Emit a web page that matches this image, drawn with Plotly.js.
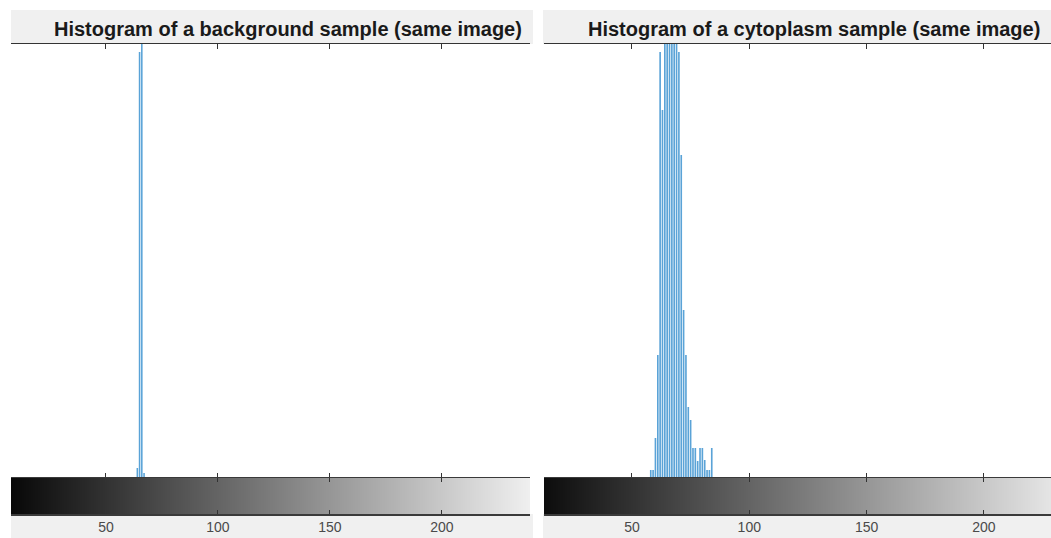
<!DOCTYPE html>
<html><head><meta charset="utf-8">
<script src="https://cdn.plot.ly/plotly-3.0.1.min.js"></script>
<style>html,body{margin:0;padding:0;background:#fff;}#chart{width:1051px;height:538px;}</style>
</head><body><div id="chart"></div>
<script>
// Background sample histogram (intensity -> count)
const bgIntensity = [64, 65, 66, 67];
const bgCounts = [10, 426, 700, 5];

// Cytoplasm sample histogram (intensity -> count)
const cytoIntensity = [58, 59, 60, 61, 62, 63, 64, 65, 66, 67, 68, 69, 70, 71, 72, 73, 74, 75, 76, 77, 78, 79, 80, 81, 82, 83, 84];
const cytoCounts = [8, 8, 40, 123, 426, 368, 520, 610, 580, 650, 560, 470, 426, 323, 168, 123, 71, 58, 30, 30, 17, 30, 30, 18, 8, 8, 30];

// Axis ticks
const tickValues = [50, 100, 150, 200];
const tickLabels = ['50', '100', '150', '200'];

// Grayscale colormap levels for the intensity bar
const grayLevels = Array.from({length: 256}, (_, i) => i);

const titles = ['Histogram of a background sample (same image)', 'Histogram of a cytoplasm sample (same image)'];

const W = 1051, H = 538;
const px = v => v / W;
const py = v => (H - v) / H;

const barColor = '#5aa3d7';
const lineColor = '#333333';

const traces = [
  {type: 'bar', x: bgIntensity, y: bgCounts, xaxis: 'x', yaxis: 'y',
   marker: {color: barColor, line: {width: 0}}, hoverinfo: 'x+y'},
  {type: 'heatmap', x: grayLevels, y: [0], z: [grayLevels], xaxis: 'x2', yaxis: 'y2',
   colorscale: [[0, '#000000'], [1, '#ffffff']], zmin: 0, zmax: 255, showscale: false, hoverinfo: 'x'},
  {type: 'bar', x: cytoIntensity, y: cytoCounts, xaxis: 'x3', yaxis: 'y3',
   marker: {color: barColor, line: {width: 0}}, hoverinfo: 'x+y'},
  {type: 'heatmap', x: grayLevels, y: [0], z: [grayLevels], xaxis: 'x4', yaxis: 'y4',
   colorscale: [[0, '#000000'], [1, '#ffffff']], zmin: 0, zmax: 255, showscale: false, hoverinfo: 'x'}
];

const leftDom = [px(11), px(530)];
const rightDom = [px(544), 1];
const leftRange = [7.6, 239.3];
const rightRange = [12.5, 228.6];
const histY = [py(478), py(44)];
const cbarY = [py(514), py(478)];

function histX(dom, rng, anchor) {
  return {domain: dom, range: rng, anchor: anchor, side: 'top', tickvals: tickValues,
    ticks: 'inside', ticklen: 5, tickcolor: lineColor, tickwidth: 1, showticklabels: false,
    showline: true, linecolor: lineColor, linewidth: 1, mirror: 'ticks',
    showgrid: false, zeroline: false, fixedrange: true};
}
function cbarX(dom, rng, anchor) {
  return {domain: dom, range: rng, anchor: anchor, side: 'bottom', tickvals: tickValues, ticktext: tickLabels,
    ticks: 'inside', ticklen: 4, tickcolor: lineColor, tickwidth: 1,
    showline: true, linecolor: '#3a3a3a', linewidth: 1.5, mirror: 'ticks',
    tickfont: {family: 'Liberation Sans, Arial, sans-serif', size: 14, color: '#4a4a4a'},
    showgrid: false, zeroline: false, fixedrange: true};
}
function hidY(dom, rng, anchor) {
  return {domain: dom, range: rng, anchor: anchor, visible: false, showgrid: false, zeroline: false, fixedrange: true};
}

const band = (x0, x1, y0, y1) => ({type: 'rect', xref: 'paper', yref: 'paper', x0: px(x0), x1: px(x1),
  y0: py(y1), y1: py(y0), fillcolor: '#f0f0f0', line: {width: 0}, layer: 'below'});

const layout = {
  width: W, height: H, margin: {l: 0, r: 0, t: 0, b: 0},
  paper_bgcolor: '#ffffff', plot_bgcolor: '#ffffff', showlegend: false, bargap: 0.3,
  xaxis: histX(leftDom, leftRange, 'y'),
  yaxis: hidY(histY, [0, 434], 'x'),
  xaxis2: cbarX(leftDom, leftRange, 'y2'),
  yaxis2: hidY(cbarY, [-0.5, 0.5], 'x2'),
  xaxis3: histX(rightDom, rightRange, 'y3'),
  yaxis3: hidY(histY, [0, 434], 'x3'),
  xaxis4: cbarX(rightDom, rightRange, 'y4'),
  yaxis4: hidY(cbarY, [-0.5, 0.5], 'x4'),
  shapes: [
    band(11, 533, 10, 44), band(11, 533, 514, 538),
    band(543, 1051, 10, 44), band(543, 1051, 514, 538)
  ],
  annotations: [
    {text: '<b>' + titles[0] + '</b>', xref: 'paper', yref: 'paper', x: px(287.5), y: py(29),
     xanchor: 'center', yanchor: 'middle', showarrow: false,
     font: {family: 'Liberation Sans, Arial, sans-serif', size: 20, color: '#1a1a1a'}},
    {text: '<b>' + titles[1] + '</b>', xref: 'paper', yref: 'paper', x: px(814), y: py(29),
     xanchor: 'center', yanchor: 'middle', showarrow: false,
     font: {family: 'Liberation Sans, Arial, sans-serif', size: 20, color: '#1a1a1a'}}
  ]
};

Plotly.newPlot('chart', traces, layout, {displayModeBar: false, staticPlot: true});
</script>
</body></html>
